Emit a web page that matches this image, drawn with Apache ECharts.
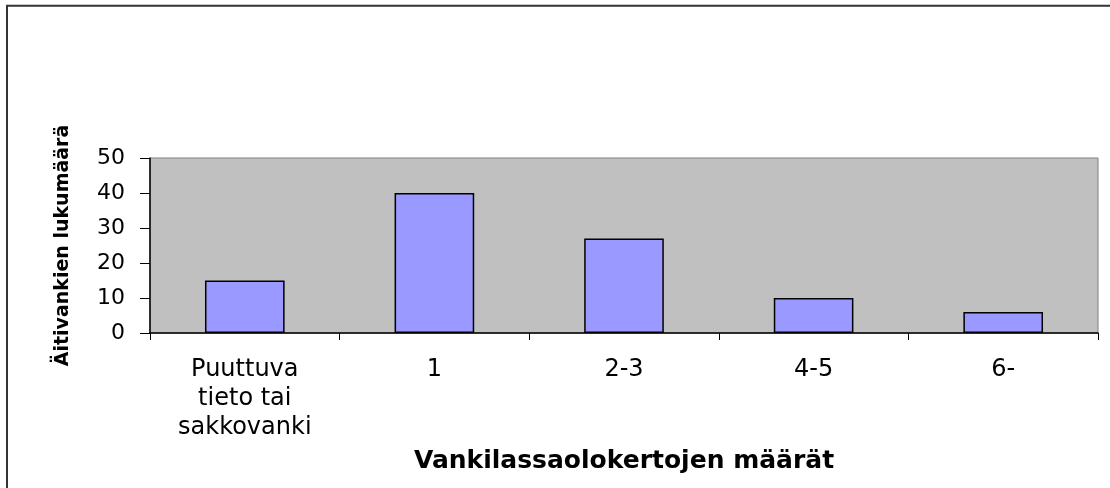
<!DOCTYPE html>
<html>
<head>
<meta charset="utf-8">
<script src="https://cdn.jsdelivr.net/npm/echarts@6/dist/echarts.min.js"></script>
<style>
html, body { margin: 0; padding: 0; background: #fff; }
#chart { width: 1110px; height: 488px; }
</style>
</head>
<body>
<div id="chart"></div>
<script>
var categories = ['Puuttuva\ntieto tai\nsakkovanki', '1', '2-3', '4-5', '6-'];
var values = [15, 40, 27, 10, 6];
var yTicks = [0, 10, 20, 30, 40, 50];
var xTitle = 'Vankilassaolokertojen määrät';
var yTitle = 'Äitivankien lukumäärä';

var chart = echarts.init(document.getElementById('chart'), null, { renderer: 'canvas' });
chart.setOption({
  animation: false,
  backgroundColor: '#ffffff',
  graphic: [{
    type: 'rect',
    silent: true,
    shape: { x: 7, y: 5.7, width: 1200, height: 600 },
    style: { fill: 'none', stroke: '#333333', lineWidth: 2 }
  }],
  grid: {
    left: 150, top: 158, right: 12, bottom: 155,
    show: true,
    backgroundColor: '#C0C0C0',
    borderColor: '#808080',
    borderWidth: 1
  },
  xAxis: {
    type: 'category',
    data: categories,
    name: xTitle,
    nameLocation: 'middle',
    nameGap: 116,
    nameTextStyle: { fontFamily: 'DejaVu Sans', fontWeight: 'bold', fontSize: 25, color: '#000' },
    axisLine: { lineStyle: { color: '#000', width: 1.5 } },
    axisTick: { show: true, length: 7, alignWithLabel: false, lineStyle: { color: '#000' } },
    axisLabel: {
      interval: 0,
      margin: 22,
      fontFamily: 'DejaVu Sans',
      fontSize: 24,
      lineHeight: 29,
      color: '#000'
    },
    splitLine: { show: false }
  },
  yAxis: {
    type: 'value',
    min: yTicks[0],
    max: yTicks[yTicks.length - 1],
    interval: 10,
    name: yTitle,
    nameLocation: 'middle',
    nameRotate: 90,
    nameGap: 77,
    nameTextStyle: { fontFamily: 'DejaVu Sans', fontWeight: 'bold', fontSize: 19, color: '#000' },
    axisLine: { show: true, lineStyle: { color: '#000', width: 1.5 } },
    axisTick: { show: true, length: 10, inside: false, lineStyle: { color: '#000' } },
    axisLabel: {
      margin: 25,
      fontFamily: 'DejaVu Sans',
      fontSize: 22,
      color: '#000'
    },
    splitLine: { show: false }
  },
  series: [{
    type: 'bar',
    data: values,
    barCategoryGap: '58%',
    itemStyle: { color: '#9999FF', borderColor: '#000', borderWidth: 1.5 }
  }]
});
</script>
</body>
</html>
